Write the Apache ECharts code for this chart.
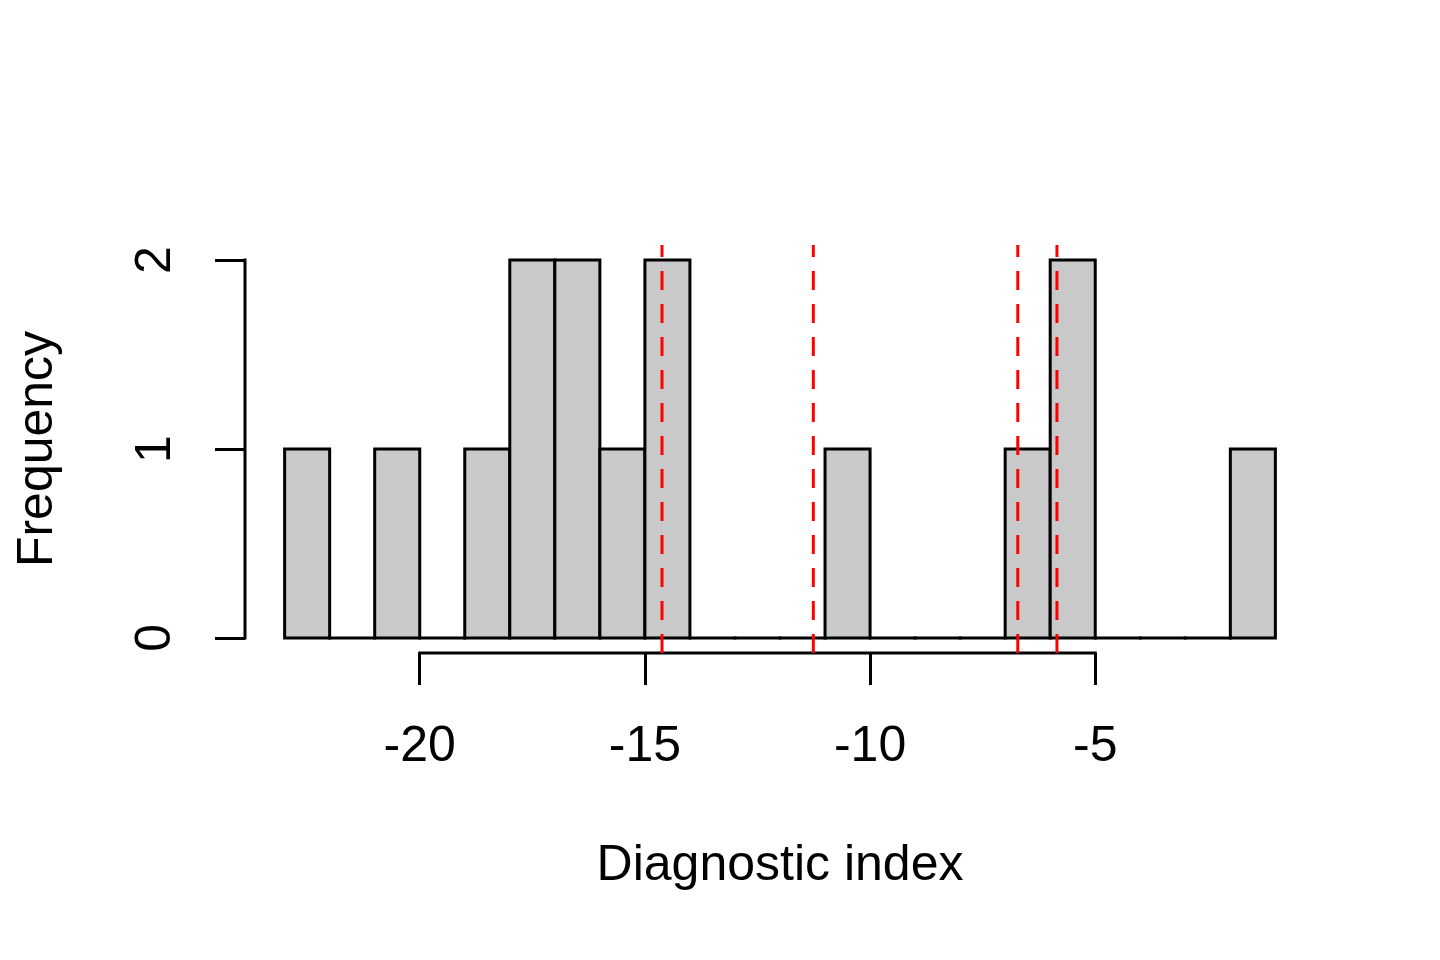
<!DOCTYPE html>
<html>
<head>
<meta charset="utf-8">
<script src="https://cdn.jsdelivr.net/npm/echarts@6/dist/echarts.min.js"></script>
<style>
html,body{margin:0;padding:0;background:#fff;}
#chart{width:1440px;height:960px;}
</style>
</head>
<body>
<div id="chart"></div>
<script>
// Histogram bins (width 1) and counts
const binStarts = [-23,-22,-21,-20,-19,-18,-17,-16,-15,-14,-13,-12,-11,-10,-9,-8,-7,-6,-5,-4,-3,-2];
const binWidth = 1;
const counts    = [1,0,1,0,1,2,2,1,2,0,0,0,1,0,0,0,1,2,0,0,0,1];
// Red dashed reference lines
const refLines = [-14.62, -11.26, -6.72, -5.85];
// Tick labels
const xTicks = [-20, -15, -10, -5];
const yTicks = [0, 1, 2];
const xTitle = 'Diagnostic index';
const yTitle = 'Frequency';

const xMin = -23.88, xMax = -0.12, yMin = -0.08, yMax = 2.08;
const FONT = '"Liberation Sans", Arial, Helvetica, sans-serif';

const binData = binStarts.map((s, i) => [s, s + binWidth, counts[i]]);

const chart = echarts.init(document.getElementById('chart'), null, {renderer: 'canvas'});
chart.setOption({
  backgroundColor: '#ffffff',
  animation: false,
  grid: {left: 245, right: 125, top: 245, bottom: 307, containLabel: false},
  xAxis: {
    type: 'value', min: xMin, max: xMax,
    axisLine: {show: false, onZero: false},
    splitLine: {show: false},
    axisTick: {show: true, customValues: xTicks, length: 32, lineStyle: {color: '#000', width: 3}},
    axisLabel: {show: true, customValues: xTicks, margin: 69, color: '#000', fontSize: 50, fontFamily: FONT, lineHeight: 50}
  },
  yAxis: {
    type: 'value', min: yMin, max: yMax,
    axisLine: {show: false, onZero: false},
    splitLine: {show: false},
    axisTick: {show: true, customValues: yTicks, length: 30, lineStyle: {color: '#000', width: 3}},
    axisLabel: {show: true, customValues: yTicks, rotate: 90, margin: 64, color: '#000', fontSize: 50, fontFamily: FONT, lineHeight: 50}
  },
  graphic: [
    {type: 'text', x: 780, y: 866, style: {text: xTitle, font: '50px ' + FONT, fill: '#000', textAlign: 'center', textVerticalAlign: 'middle'}},
    {type: 'text', x: 38, y: 449, rotation: Math.PI / 2, style: {text: yTitle, font: '50px ' + FONT, fill: '#000', textAlign: 'center', textVerticalAlign: 'middle'}}
  ],
  series: [
    {
      type: 'custom', name: 'bins', clip: false,
      data: binData,
      renderItem: function (params, api) {
        const p0 = api.coord([api.value(0), api.value(2)]);
        const p1 = api.coord([api.value(1), 0]);
        const h = p1[1] - p0[1];
        if (h < 0.5) {
          return {type: 'line', shape: {x1: p0[0], y1: p1[1], x2: p1[0], y2: p1[1]},
                  style: {stroke: '#000', lineWidth: 3, lineCap: 'square'}};
        }
        return {type: 'rect', shape: {x: p0[0], y: p0[1], width: p1[0] - p0[0], height: h},
                style: {fill: '#c9c9c9', stroke: '#000', lineWidth: 3, lineJoin: 'miter'}};
      }
    },
    {
      type: 'custom', name: 'axes', clip: false, silent: true,
      data: [[0]],
      renderItem: function (params, api) {
        const xa = api.coord([xTicks[0], yMin]);
        const xb = api.coord([xTicks[xTicks.length - 1], yMin]);
        const ya = api.coord([xMin, yTicks[0]]);
        const yb = api.coord([xMin, yTicks[yTicks.length - 1]]);
        return {type: 'group', children: [
          {type: 'line', shape: {x1: xa[0], y1: xa[1], x2: xb[0], y2: xb[1]}, style: {stroke: '#000', lineWidth: 3, lineCap: 'square'}},
          {type: 'line', shape: {x1: ya[0], y1: ya[1], x2: yb[0], y2: yb[1]}, style: {stroke: '#000', lineWidth: 3, lineCap: 'square'}}
        ]};
      }
    },
    {
      type: 'custom', name: 'refs', clip: false, silent: true,
      data: refLines.map(v => [v]),
      renderItem: function (params, api) {
        const a = api.coord([api.value(0), yMin]);
        const b = api.coord([api.value(0), yMax]);
        return {type: 'line', shape: {x1: a[0], y1: a[1], x2: b[0], y2: b[1]},
                style: {stroke: '#ff0000', lineWidth: 3, lineDash: [19, 14]}, z2: 10};
      }
    }
  ]
});
</script>
</body>
</html>
